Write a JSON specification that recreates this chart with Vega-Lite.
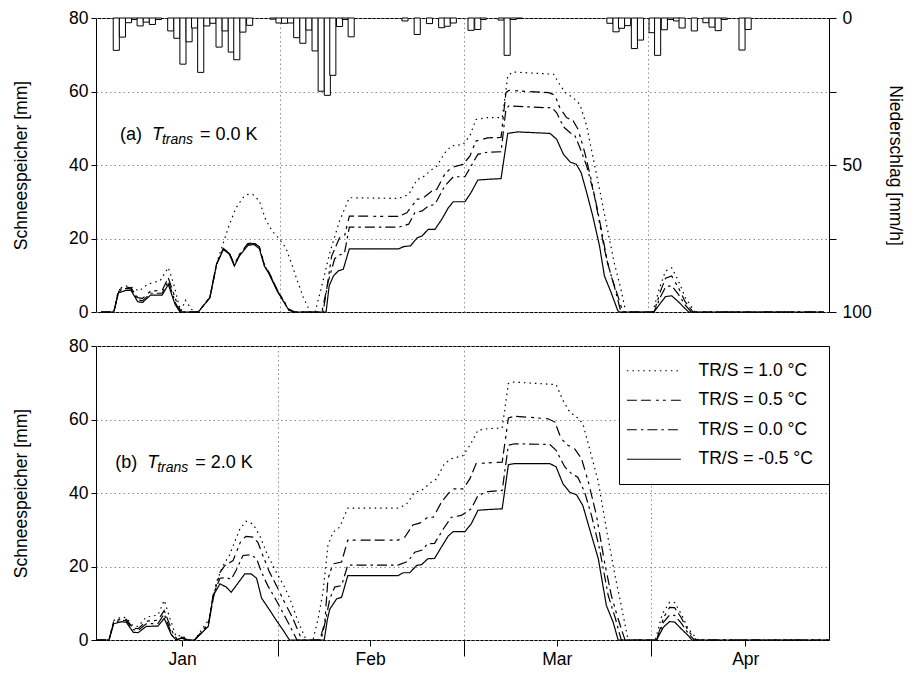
{
  "$schema": "https://vega.github.io/schema/vega-lite/v6.json",
  "padding": {"left": 12, "top": 8, "right": 5, "bottom": 2},
  "config": {
    "font": "Liberation Sans",
    "view": {"stroke": "black", "strokeWidth": 1},
    "axis": {"domain": false, "tickColor": "black", "labelColor": "black", "titleColor": "black", "labelFontSize": 17.5, "titleFontSize": 17.5, "titleFontWeight": "normal", "labelFont": "Liberation Sans", "titleFont": "Liberation Sans", "gridColor": "#8c8c8c", "gridDash": [1.5, 3], "gridWidth": 1}
  },
  "datasets": {
    "sweA": [
      {"s":"-0.5","t":0,"v":0},{"s":"-0.5","t":2.1,"v":0},{"s":"-0.5","t":2.85,"v":5.2},{"s":"-0.5","t":4.1,"v":5.9},{"s":"-0.5","t":4.9,"v":5.9},{"s":"-0.5","t":6.0,"v":2.8},{"s":"-0.5","t":6.8,"v":2.6},{"s":"-0.5","t":8.1,"v":4.6},{"s":"-0.5","t":10.0,"v":4.6},{"s":"-0.5","t":11.0,"v":7.5},{"s":"-0.5","t":12.1,"v":2.1},{"s":"-0.5","t":12.9,"v":0},{"s":"-0.5","t":15.9,"v":0},{"s":"-0.5","t":17.8,"v":3.9},{"s":"-0.5","t":18.9,"v":13.0},{"s":"-0.5","t":20.0,"v":17.0},{"s":"-0.5","t":21.0,"v":15.7},{"s":"-0.5","t":21.8,"v":12.5},{"s":"-0.5","t":22.6,"v":15.2},{"s":"-0.5","t":24.0,"v":18.1},{"s":"-0.5","t":25.0,"v":18.4},{"s":"-0.5","t":25.9,"v":17.2},{"s":"-0.5","t":26.7,"v":12.5},{"s":"-0.5","t":27.5,"v":10.3},{"s":"-0.5","t":28.8,"v":5.7},{"s":"-0.5","t":30.7,"v":0.5},{"s":"-0.5","t":31.5,"v":0},{"s":"-0.5","t":36.8,"v":0},{"s":"-0.5","t":37.3,"v":7.1},{"s":"-0.5","t":38.0,"v":9.8},{"s":"-0.5","t":38.8,"v":11.2},{"s":"-0.5","t":39.6,"v":11.6},{"s":"-0.5","t":40.6,"v":17.2},{"s":"-0.5","t":48.7,"v":17.2},{"s":"-0.5","t":49.5,"v":17.8},{"s":"-0.5","t":50.6,"v":18.0},{"s":"-0.5","t":51.7,"v":20.2},{"s":"-0.5","t":52.5,"v":20.7},{"s":"-0.5","t":53.5,"v":22.5},{"s":"-0.5","t":54.6,"v":22.5},{"s":"-0.5","t":55.7,"v":25.2},{"s":"-0.5","t":56.8,"v":28.4},{"s":"-0.5","t":57.6,"v":30.0},{"s":"-0.5","t":59.5,"v":30.0},{"s":"-0.5","t":60.5,"v":32.5},{"s":"-0.5","t":61.6,"v":35.9},{"s":"-0.5","t":63.2,"v":36.1},{"s":"-0.5","t":65.4,"v":36.3},{"s":"-0.5","t":66.5,"v":48.6},{"s":"-0.5","t":68.1,"v":49.0},{"s":"-0.5","t":73.4,"v":48.6},{"s":"-0.5","t":74.5,"v":47.0},{"s":"-0.5","t":75.6,"v":42.9},{"s":"-0.5","t":76.7,"v":40.8},{"s":"-0.5","t":77.7,"v":40.2},{"s":"-0.5","t":78.5,"v":37.9},{"s":"-0.5","t":79.4,"v":32.5},{"s":"-0.5","t":80.4,"v":26.1},{"s":"-0.5","t":81.5,"v":18.0},{"s":"-0.5","t":82.3,"v":9.8},{"s":"-0.5","t":83.4,"v":5.3},{"s":"-0.5","t":84.5,"v":0.3},{"s":"-0.5","t":84.8,"v":0},{"s":"-0.5","t":90.4,"v":0},{"s":"-0.5","t":91.5,"v":2.5},{"s":"-0.5","t":92.3,"v":4.2},{"s":"-0.5","t":93.3,"v":4.4},{"s":"-0.5","t":94.4,"v":2.8},{"s":"-0.5","t":95.5,"v":0.9},{"s":"-0.5","t":96.1,"v":0},{"s":"-0.5","t":118.2,"v":0},
      {"s":"0.0","t":0,"v":0},{"s":"0.0","t":2.1,"v":0},{"s":"0.0","t":2.85,"v":5.6},{"s":"0.0","t":4.1,"v":6.4},{"s":"0.0","t":4.9,"v":6.3},{"s":"0.0","t":6.0,"v":3.3},{"s":"0.0","t":6.8,"v":3.1},{"s":"0.0","t":8.1,"v":5.1},{"s":"0.0","t":10.0,"v":5.1},{"s":"0.0","t":11.0,"v":8.4},{"s":"0.0","t":12.2,"v":2.4},{"s":"0.0","t":13.0,"v":0},{"s":"0.0","t":15.9,"v":0},{"s":"0.0","t":17.8,"v":3.9},{"s":"0.0","t":18.9,"v":13.0},{"s":"0.0","t":20.0,"v":17.2},{"s":"0.0","t":21.0,"v":15.9},{"s":"0.0","t":21.8,"v":12.7},{"s":"0.0","t":22.6,"v":15.4},{"s":"0.0","t":24.0,"v":18.4},{"s":"0.0","t":25.0,"v":18.7},{"s":"0.0","t":25.9,"v":17.5},{"s":"0.0","t":26.7,"v":12.8},{"s":"0.0","t":27.5,"v":10.5},{"s":"0.0","t":28.8,"v":5.9},{"s":"0.0","t":30.7,"v":0.6},{"s":"0.0","t":31.6,"v":0},{"s":"0.0","t":36.3,"v":0},{"s":"0.0","t":37.1,"v":8.0},{"s":"0.0","t":38.2,"v":14.5},{"s":"0.0","t":39.0,"v":15.5},{"s":"0.0","t":39.8,"v":16.0},{"s":"0.0","t":40.6,"v":23.1},{"s":"0.0","t":48.7,"v":23.1},{"s":"0.0","t":50.3,"v":23.9},{"s":"0.0","t":51.3,"v":27.0},{"s":"0.0","t":52.5,"v":27.5},{"s":"0.0","t":53.5,"v":28.8},{"s":"0.0","t":54.6,"v":29.3},{"s":"0.0","t":56.2,"v":34.3},{"s":"0.0","t":57.6,"v":36.8},{"s":"0.0","t":59.5,"v":36.8},{"s":"0.0","t":60.5,"v":39.7},{"s":"0.0","t":61.6,"v":42.9},{"s":"0.0","t":63.2,"v":43.5},{"s":"0.0","t":65.4,"v":43.6},{"s":"0.0","t":66.2,"v":55.2},{"s":"0.0","t":66.7,"v":56.1},{"s":"0.0","t":72.4,"v":55.6},{"s":"0.0","t":73.7,"v":55.6},{"s":"0.0","t":74.5,"v":54.2},{"s":"0.0","t":75.6,"v":50.4},{"s":"0.0","t":76.7,"v":48.8},{"s":"0.0","t":77.5,"v":47.9},{"s":"0.0","t":78.3,"v":44.7},{"s":"0.0","t":79.4,"v":39.7},{"s":"0.0","t":80.7,"v":31.6},{"s":"0.0","t":81.8,"v":22.5},{"s":"0.0","t":82.8,"v":13.4},{"s":"0.0","t":83.9,"v":7.1},{"s":"0.0","t":85.0,"v":0},{"s":"0.0","t":90.4,"v":0},{"s":"0.0","t":91.5,"v":4.2},{"s":"0.0","t":92.3,"v":6.8},{"s":"0.0","t":93.3,"v":7.2},{"s":"0.0","t":94.4,"v":4.8},{"s":"0.0","t":95.5,"v":1.9},{"s":"0.0","t":96.5,"v":0},{"s":"0.0","t":118.2,"v":0},
      {"s":"0.5","t":0,"v":0},{"s":"0.5","t":2.1,"v":0},{"s":"0.5","t":2.85,"v":6.0},{"s":"0.5","t":4.1,"v":6.8},{"s":"0.5","t":4.9,"v":6.6},{"s":"0.5","t":6.0,"v":3.9},{"s":"0.5","t":6.8,"v":3.7},{"s":"0.5","t":8.1,"v":5.7},{"s":"0.5","t":10.0,"v":5.9},{"s":"0.5","t":11.0,"v":9.3},{"s":"0.5","t":12.3,"v":3.0},{"s":"0.5","t":13.1,"v":0},{"s":"0.5","t":15.9,"v":0},{"s":"0.5","t":17.8,"v":3.9},{"s":"0.5","t":18.9,"v":13.1},{"s":"0.5","t":20.0,"v":17.3},{"s":"0.5","t":21.0,"v":16.0},{"s":"0.5","t":21.8,"v":12.9},{"s":"0.5","t":22.6,"v":15.6},{"s":"0.5","t":24.0,"v":18.6},{"s":"0.5","t":25.0,"v":18.9},{"s":"0.5","t":25.9,"v":17.7},{"s":"0.5","t":26.7,"v":13.0},{"s":"0.5","t":27.5,"v":10.7},{"s":"0.5","t":28.8,"v":6.1},{"s":"0.5","t":30.7,"v":0.8},{"s":"0.5","t":31.7,"v":0},{"s":"0.5","t":36.1,"v":0},{"s":"0.5","t":36.9,"v":6.2},{"s":"0.5","t":37.7,"v":15.2},{"s":"0.5","t":39.0,"v":20.2},{"s":"0.5","t":39.8,"v":20.6},{"s":"0.5","t":40.6,"v":26.1},{"s":"0.5","t":48.7,"v":26.0},{"s":"0.5","t":50.0,"v":27.0},{"s":"0.5","t":51.7,"v":30.7},{"s":"0.5","t":52.5,"v":30.8},{"s":"0.5","t":54.1,"v":32.9},{"s":"0.5","t":54.9,"v":33.4},{"s":"0.5","t":56.2,"v":37.5},{"s":"0.5","t":57.3,"v":39.3},{"s":"0.5","t":59.2,"v":40.2},{"s":"0.5","t":60.3,"v":42.4},{"s":"0.5","t":61.3,"v":46.5},{"s":"0.5","t":63.2,"v":47.4},{"s":"0.5","t":65.4,"v":47.5},{"s":"0.5","t":66.2,"v":59.7},{"s":"0.5","t":66.7,"v":60.3},{"s":"0.5","t":73.2,"v":59.7},{"s":"0.5","t":74.2,"v":59.0},{"s":"0.5","t":75.0,"v":55.6},{"s":"0.5","t":76.1,"v":52.9},{"s":"0.5","t":77.2,"v":52.0},{"s":"0.5","t":78.0,"v":49.7},{"s":"0.5","t":79.1,"v":43.3},{"s":"0.5","t":80.2,"v":35.6},{"s":"0.5","t":81.2,"v":27.0},{"s":"0.5","t":82.3,"v":17.1},{"s":"0.5","t":83.4,"v":9.8},{"s":"0.5","t":84.5,"v":4.4},{"s":"0.5","t":85.3,"v":0},{"s":"0.5","t":90.4,"v":0},{"s":"0.5","t":91.5,"v":5.8},{"s":"0.5","t":92.3,"v":9.2},{"s":"0.5","t":93.3,"v":9.8},{"s":"0.5","t":94.4,"v":6.6},{"s":"0.5","t":95.5,"v":2.8},{"s":"0.5","t":96.8,"v":0},{"s":"0.5","t":118.2,"v":0},
      {"s":"1.0","t":0,"v":0},{"s":"1.0","t":2.1,"v":0},{"s":"1.0","t":3.0,"v":6.4},{"s":"1.0","t":4.1,"v":7.1},{"s":"1.0","t":5.2,"v":6.6},{"s":"1.0","t":6.2,"v":5.7},{"s":"1.0","t":7.6,"v":7.5},{"s":"1.0","t":9.7,"v":8.6},{"s":"1.0","t":11.0,"v":12.1},{"s":"1.0","t":11.9,"v":7.5},{"s":"1.0","t":12.7,"v":2.1},{"s":"1.0","t":13.1,"v":0.3},{"s":"1.0","t":13.8,"v":3.2},{"s":"1.0","t":14.8,"v":0.7},{"s":"1.0","t":15.4,"v":0},{"s":"1.0","t":15.9,"v":0},{"s":"1.0","t":17.8,"v":4.0},{"s":"1.0","t":18.9,"v":13.2},{"s":"1.0","t":20.2,"v":19.8},{"s":"1.0","t":21.0,"v":23.9},{"s":"1.0","t":22.1,"v":28.4},{"s":"1.0","t":23.2,"v":31.1},{"s":"1.0","t":24.0,"v":32.0},{"s":"1.0","t":24.8,"v":32.0},{"s":"1.0","t":25.9,"v":30.2},{"s":"1.0","t":26.9,"v":25.2},{"s":"1.0","t":28.0,"v":22.0},{"s":"1.0","t":29.1,"v":20.0},{"s":"1.0","t":30.2,"v":17.5},{"s":"1.0","t":31.2,"v":13.0},{"s":"1.0","t":32.0,"v":8.9},{"s":"1.0","t":33.1,"v":3.9},{"s":"1.0","t":34.2,"v":0},{"s":"1.0","t":35.0,"v":0},{"s":"1.0","t":36.1,"v":7.1},{"s":"1.0","t":37.4,"v":16.1},{"s":"1.0","t":39.0,"v":24.8},{"s":"1.0","t":40.6,"v":31.1},{"s":"1.0","t":48.7,"v":30.9},{"s":"1.0","t":50.3,"v":32.0},{"s":"1.0","t":51.7,"v":36.1},{"s":"1.0","t":52.5,"v":36.5},{"s":"1.0","t":54.1,"v":38.8},{"s":"1.0","t":54.9,"v":39.7},{"s":"1.0","t":56.2,"v":43.3},{"s":"1.0","t":57.3,"v":45.2},{"s":"1.0","t":59.2,"v":45.6},{"s":"1.0","t":60.3,"v":47.9},{"s":"1.0","t":61.3,"v":52.4},{"s":"1.0","t":63.2,"v":52.9},{"s":"1.0","t":65.6,"v":52.9},{"s":"1.0","t":66.5,"v":64.2},{"s":"1.0","t":67.3,"v":65.3},{"s":"1.0","t":74.0,"v":64.7},{"s":"1.0","t":74.8,"v":62.4},{"s":"1.0","t":75.9,"v":59.7},{"s":"1.0","t":77.2,"v":58.3},{"s":"1.0","t":78.3,"v":56.5},{"s":"1.0","t":79.4,"v":50.6},{"s":"1.0","t":80.4,"v":42.4},{"s":"1.0","t":81.5,"v":33.4},{"s":"1.0","t":82.8,"v":22.5},{"s":"1.0","t":83.9,"v":13.4},{"s":"1.0","t":85.0,"v":6.2},{"s":"1.0","t":85.8,"v":0},{"s":"1.0","t":90.2,"v":0},{"s":"1.0","t":91.3,"v":6.5},{"s":"1.0","t":92.3,"v":11.2},{"s":"1.0","t":93.3,"v":12.0},{"s":"1.0","t":94.4,"v":8.5},{"s":"1.0","t":95.5,"v":4.0},{"s":"1.0","t":97.1,"v":0},{"s":"1.0","t":118.2,"v":0}
    ],
    "sweB": [
      {"s":"-0.5","t":0,"v":0},{"s":"-0.5","t":2.1,"v":0},{"s":"-0.5","t":2.85,"v":4.4},{"s":"-0.5","t":4.1,"v":5.0},{"s":"-0.5","t":4.9,"v":4.8},{"s":"-0.5","t":6.0,"v":2.1},{"s":"-0.5","t":6.8,"v":2.0},{"s":"-0.5","t":8.1,"v":3.7},{"s":"-0.5","t":10.0,"v":3.8},{"s":"-0.5","t":11.0,"v":5.9},{"s":"-0.5","t":12.1,"v":1.6},{"s":"-0.5","t":12.9,"v":0},{"s":"-0.5","t":13.8,"v":0.5},{"s":"-0.5","t":14.8,"v":0},{"s":"-0.5","t":15.9,"v":0},{"s":"-0.5","t":18.1,"v":3.7},{"s":"-0.5","t":18.9,"v":12.1},{"s":"-0.5","t":20.0,"v":15.3},{"s":"-0.5","t":21.0,"v":14.4},{"s":"-0.5","t":21.8,"v":13.0},{"s":"-0.5","t":22.6,"v":14.8},{"s":"-0.5","t":24.0,"v":18.0},{"s":"-0.5","t":25.0,"v":18.0},{"s":"-0.5","t":25.9,"v":16.8},{"s":"-0.5","t":26.7,"v":11.4},{"s":"-0.5","t":27.7,"v":8.9},{"s":"-0.5","t":29.1,"v":5.3},{"s":"-0.5","t":30.2,"v":2.6},{"s":"-0.5","t":31.2,"v":0},{"s":"-0.5","t":36.8,"v":0},{"s":"-0.5","t":37.3,"v":5.5},{"s":"-0.5","t":37.7,"v":8.4},{"s":"-0.5","t":38.8,"v":11.2},{"s":"-0.5","t":39.6,"v":11.6},{"s":"-0.5","t":40.6,"v":17.5},{"s":"-0.5","t":48.7,"v":17.5},{"s":"-0.5","t":49.5,"v":18.3},{"s":"-0.5","t":50.6,"v":18.3},{"s":"-0.5","t":51.7,"v":20.3},{"s":"-0.5","t":52.5,"v":20.5},{"s":"-0.5","t":53.5,"v":22.1},{"s":"-0.5","t":54.6,"v":22.2},{"s":"-0.5","t":55.7,"v":25.3},{"s":"-0.5","t":56.8,"v":28.3},{"s":"-0.5","t":57.6,"v":29.5},{"s":"-0.5","t":59.5,"v":29.5},{"s":"-0.5","t":60.5,"v":31.6},{"s":"-0.5","t":61.6,"v":35.3},{"s":"-0.5","t":63.2,"v":35.5},{"s":"-0.5","t":65.5,"v":35.7},{"s":"-0.5","t":66.5,"v":47.7},{"s":"-0.5","t":67.5,"v":48.0},{"s":"-0.5","t":73.2,"v":48.0},{"s":"-0.5","t":74.2,"v":47.1},{"s":"-0.5","t":75.3,"v":42.5},{"s":"-0.5","t":76.4,"v":40.2},{"s":"-0.5","t":77.5,"v":39.5},{"s":"-0.5","t":78.5,"v":36.6},{"s":"-0.5","t":79.6,"v":30.2},{"s":"-0.5","t":81.0,"v":22.1},{"s":"-0.5","t":82.3,"v":9.4},{"s":"-0.5","t":83.4,"v":4.8},{"s":"-0.5","t":84.2,"v":0},{"s":"-0.5","t":90.4,"v":0},{"s":"-0.5","t":91.5,"v":3.5},{"s":"-0.5","t":92.5,"v":5.0},{"s":"-0.5","t":93.3,"v":4.9},{"s":"-0.5","t":94.4,"v":3.0},{"s":"-0.5","t":95.5,"v":1.2},{"s":"-0.5","t":96.1,"v":0},{"s":"-0.5","t":118.2,"v":0},
      {"s":"0.0","t":0,"v":0},{"s":"0.0","t":2.1,"v":0},{"s":"0.0","t":2.85,"v":4.8},{"s":"0.0","t":4.1,"v":5.4},{"s":"0.0","t":4.9,"v":5.2},{"s":"0.0","t":6.0,"v":2.8},{"s":"0.0","t":6.8,"v":2.6},{"s":"0.0","t":8.1,"v":4.4},{"s":"0.0","t":10.0,"v":4.5},{"s":"0.0","t":11.0,"v":7.1},{"s":"0.0","t":12.3,"v":1.1},{"s":"0.0","t":13.0,"v":0},{"s":"0.0","t":13.8,"v":0.6},{"s":"0.0","t":14.8,"v":0},{"s":"0.0","t":15.9,"v":0},{"s":"0.0","t":18.1,"v":3.9},{"s":"0.0","t":18.9,"v":12.3},{"s":"0.0","t":20.0,"v":16.8},{"s":"0.0","t":21.0,"v":17.0},{"s":"0.0","t":21.8,"v":16.5},{"s":"0.0","t":22.6,"v":19.0},{"s":"0.0","t":23.7,"v":23.0},{"s":"0.0","t":25.0,"v":23.2},{"s":"0.0","t":25.9,"v":22.1},{"s":"0.0","t":26.7,"v":18.4},{"s":"0.0","t":27.7,"v":14.8},{"s":"0.0","t":29.1,"v":10.7},{"s":"0.0","t":30.4,"v":6.6},{"s":"0.0","t":31.8,"v":2.1},{"s":"0.0","t":32.4,"v":0},{"s":"0.0","t":36.3,"v":0},{"s":"0.0","t":37.1,"v":6.0},{"s":"0.0","t":37.7,"v":11.2},{"s":"0.0","t":38.5,"v":14.4},{"s":"0.0","t":39.6,"v":14.8},{"s":"0.0","t":40.6,"v":20.4},{"s":"0.0","t":48.7,"v":20.4},{"s":"0.0","t":50.3,"v":21.4},{"s":"0.0","t":51.4,"v":23.9},{"s":"0.0","t":52.5,"v":24.4},{"s":"0.0","t":53.5,"v":26.2},{"s":"0.0","t":54.6,"v":26.3},{"s":"0.0","t":56.0,"v":30.2},{"s":"0.0","t":57.3,"v":33.4},{"s":"0.0","t":58.9,"v":33.9},{"s":"0.0","t":60.5,"v":35.7},{"s":"0.0","t":61.6,"v":39.3},{"s":"0.0","t":63.2,"v":40.4},{"s":"0.0","t":65.5,"v":40.7},{"s":"0.0","t":66.5,"v":53.0},{"s":"0.0","t":67.5,"v":53.4},{"s":"0.0","t":73.2,"v":53.2},{"s":"0.0","t":74.2,"v":51.6},{"s":"0.0","t":75.6,"v":47.1},{"s":"0.0","t":76.7,"v":45.2},{"s":"0.0","t":77.7,"v":44.3},{"s":"0.0","t":78.8,"v":40.2},{"s":"0.0","t":79.9,"v":33.9},{"s":"0.0","t":81.2,"v":24.8},{"s":"0.0","t":82.6,"v":12.1},{"s":"0.0","t":83.7,"v":6.2},{"s":"0.0","t":84.7,"v":0},{"s":"0.0","t":90.4,"v":0},{"s":"0.0","t":91.5,"v":4.8},{"s":"0.0","t":92.5,"v":6.8},{"s":"0.0","t":93.3,"v":6.7},{"s":"0.0","t":94.4,"v":4.5},{"s":"0.0","t":95.5,"v":1.8},{"s":"0.0","t":96.5,"v":0},{"s":"0.0","t":118.2,"v":0},
      {"s":"0.5","t":0,"v":0},{"s":"0.5","t":2.1,"v":0},{"s":"0.5","t":2.85,"v":5.0},{"s":"0.5","t":4.1,"v":5.8},{"s":"0.5","t":4.9,"v":5.6},{"s":"0.5","t":6.0,"v":3.2},{"s":"0.5","t":6.8,"v":3.1},{"s":"0.5","t":8.1,"v":5.1},{"s":"0.5","t":10.0,"v":5.4},{"s":"0.5","t":11.0,"v":8.0},{"s":"0.5","t":12.5,"v":1.5},{"s":"0.5","t":13.2,"v":0},{"s":"0.5","t":13.8,"v":0.8},{"s":"0.5","t":14.8,"v":0},{"s":"0.5","t":15.9,"v":0},{"s":"0.5","t":18.1,"v":4.4},{"s":"0.5","t":19.1,"v":13.0},{"s":"0.5","t":20.0,"v":18.4},{"s":"0.5","t":20.8,"v":20.3},{"s":"0.5","t":22.1,"v":21.6},{"s":"0.5","t":23.4,"v":27.1},{"s":"0.5","t":24.2,"v":28.2},{"s":"0.5","t":25.3,"v":28.0},{"s":"0.5","t":26.1,"v":26.6},{"s":"0.5","t":26.9,"v":23.0},{"s":"0.5","t":28.0,"v":18.4},{"s":"0.5","t":29.1,"v":14.8},{"s":"0.5","t":30.4,"v":10.3},{"s":"0.5","t":31.8,"v":5.7},{"s":"0.5","t":32.9,"v":1.2},{"s":"0.5","t":33.3,"v":0},{"s":"0.5","t":36.1,"v":0},{"s":"0.5","t":36.9,"v":4.8},{"s":"0.5","t":37.4,"v":16.6},{"s":"0.5","t":38.2,"v":20.7},{"s":"0.5","t":39.6,"v":21.2},{"s":"0.5","t":40.6,"v":27.2},{"s":"0.5","t":48.7,"v":27.2},{"s":"0.5","t":49.8,"v":28.0},{"s":"0.5","t":51.1,"v":31.3},{"s":"0.5","t":52.2,"v":31.8},{"s":"0.5","t":53.5,"v":33.4},{"s":"0.5","t":54.4,"v":33.4},{"s":"0.5","t":55.7,"v":37.5},{"s":"0.5","t":56.8,"v":39.8},{"s":"0.5","t":57.6,"v":41.1},{"s":"0.5","t":59.2,"v":41.1},{"s":"0.5","t":60.3,"v":43.9},{"s":"0.5","t":61.3,"v":48.0},{"s":"0.5","t":63.2,"v":48.2},{"s":"0.5","t":65.5,"v":48.4},{"s":"0.5","t":66.5,"v":60.4},{"s":"0.5","t":67.5,"v":60.9},{"s":"0.5","t":72.9,"v":60.2},{"s":"0.5","t":74.0,"v":59.3},{"s":"0.5","t":75.0,"v":54.8},{"s":"0.5","t":76.1,"v":53.0},{"s":"0.5","t":77.2,"v":52.0},{"s":"0.5","t":78.3,"v":49.3},{"s":"0.5","t":79.4,"v":43.0},{"s":"0.5","t":80.7,"v":33.9},{"s":"0.5","t":82.0,"v":21.2},{"s":"0.5","t":83.1,"v":12.1},{"s":"0.5","t":84.2,"v":5.7},{"s":"0.5","t":85.3,"v":0},{"s":"0.5","t":90.4,"v":0},{"s":"0.5","t":91.5,"v":6.0},{"s":"0.5","t":92.5,"v":8.9},{"s":"0.5","t":93.3,"v":8.8},{"s":"0.5","t":94.4,"v":6.0},{"s":"0.5","t":95.5,"v":2.5},{"s":"0.5","t":96.8,"v":0},{"s":"0.5","t":118.2,"v":0},
      {"s":"1.0","t":0,"v":0},{"s":"1.0","t":2.1,"v":0},{"s":"1.0","t":2.85,"v":5.3},{"s":"1.0","t":4.1,"v":6.3},{"s":"1.0","t":4.9,"v":6.0},{"s":"1.0","t":6.0,"v":3.8},{"s":"1.0","t":6.8,"v":3.7},{"s":"1.0","t":8.1,"v":6.2},{"s":"1.0","t":10.0,"v":6.8},{"s":"1.0","t":11.0,"v":10.8},{"s":"1.0","t":12.0,"v":5.5},{"s":"1.0","t":12.9,"v":1.0},{"s":"1.0","t":13.8,"v":1.3},{"s":"1.0","t":14.8,"v":0},{"s":"1.0","t":15.9,"v":0},{"s":"1.0","t":18.3,"v":5.8},{"s":"1.0","t":19.4,"v":15.7},{"s":"1.0","t":20.5,"v":20.3},{"s":"1.0","t":21.5,"v":23.0},{"s":"1.0","t":23.2,"v":30.2},{"s":"1.0","t":24.2,"v":32.3},{"s":"1.0","t":25.3,"v":31.6},{"s":"1.0","t":26.4,"v":28.4},{"s":"1.0","t":27.7,"v":23.0},{"s":"1.0","t":29.1,"v":18.4},{"s":"1.0","t":30.4,"v":14.4},{"s":"1.0","t":31.2,"v":11.5},{"s":"1.0","t":32.6,"v":5.0},{"s":"1.0","t":33.7,"v":0.7},{"s":"1.0","t":34.2,"v":0},{"s":"1.0","t":35.0,"v":0},{"s":"1.0","t":35.8,"v":5.7},{"s":"1.0","t":36.6,"v":13.0},{"s":"1.0","t":37.4,"v":25.7},{"s":"1.0","t":38.2,"v":29.3},{"s":"1.0","t":39.3,"v":30.7},{"s":"1.0","t":40.6,"v":35.9},{"s":"1.0","t":48.7,"v":35.9},{"s":"1.0","t":50.0,"v":36.8},{"s":"1.0","t":51.4,"v":40.2},{"s":"1.0","t":52.5,"v":40.7},{"s":"1.0","t":54.1,"v":43.0},{"s":"1.0","t":54.9,"v":43.8},{"s":"1.0","t":56.2,"v":48.0},{"s":"1.0","t":57.3,"v":49.3},{"s":"1.0","t":59.2,"v":50.2},{"s":"1.0","t":60.3,"v":53.0},{"s":"1.0","t":61.6,"v":57.1},{"s":"1.0","t":63.2,"v":57.5},{"s":"1.0","t":65.5,"v":57.7},{"s":"1.0","t":66.5,"v":69.8},{"s":"1.0","t":67.3,"v":70.2},{"s":"1.0","t":74.2,"v":69.5},{"s":"1.0","t":75.3,"v":65.2},{"s":"1.0","t":76.4,"v":62.0},{"s":"1.0","t":77.5,"v":60.7},{"s":"1.0","t":78.5,"v":58.9},{"s":"1.0","t":79.6,"v":52.0},{"s":"1.0","t":81.0,"v":43.0},{"s":"1.0","t":82.3,"v":30.2},{"s":"1.0","t":83.7,"v":17.5},{"s":"1.0","t":84.7,"v":9.4},{"s":"1.0","t":85.8,"v":0},{"s":"1.0","t":90.2,"v":0},{"s":"1.0","t":91.3,"v":7.0},{"s":"1.0","t":92.5,"v":10.3},{"s":"1.0","t":93.3,"v":10.2},{"s":"1.0","t":94.4,"v":7.0},{"s":"1.0","t":95.5,"v":3.0},{"s":"1.0","t":97.1,"v":0},{"s":"1.0","t":118.2,"v":0}
    ],
    "prec": [
      {"t":2.5,"p":11.0},{"t":3.5,"p":6.5},{"t":4.5,"p":1.6},{"t":5.5,"p":0.5},{"t":6.4,"p":2.7},{"t":7.4,"p":1.4},{"t":8.4,"p":2.2},{"t":9.4,"p":0.5},{"t":11.4,"p":4.4},{"t":12.4,"p":6.9},{"t":13.4,"p":15.7},{"t":14.4,"p":8.1},{"t":15.3,"p":3.4},{"t":16.3,"p":18.5},{"t":17.3,"p":2.7},{"t":18.3,"p":1.8},{"t":19.3,"p":9.9},{"t":20.3,"p":4.4},{"t":21.3,"p":11.6},{"t":22.2,"p":14.2},{"t":23.2,"p":4.8},{"t":24.3,"p":2.5},{"t":28.1,"p":0.4},{"t":29.1,"p":1.7},{"t":30.0,"p":1.8},{"t":31.0,"p":1.7},{"t":32.0,"p":6.7},{"t":33.0,"p":8.6},{"t":34.0,"p":4.1},{"t":35.0,"p":11.2},{"t":36.0,"p":24.9},{"t":37.0,"p":26.3},{"t":37.9,"p":19.5},{"t":39.0,"p":2.9},{"t":39.9,"p":0.5},{"t":40.9,"p":6.4},{"t":49.7,"p":1.0},{"t":51.7,"p":5.6},{"t":53.7,"p":1.9},{"t":55.7,"p":3.3},{"t":56.6,"p":2.8},{"t":57.6,"p":1.7},{"t":60.5,"p":4.2},{"t":61.6,"p":3.9},{"t":62.5,"p":0.5},{"t":65.4,"p":0.7},{"t":66.4,"p":12.7},{"t":67.4,"p":0.5},{"t":68.4,"p":0.2},{"t":83.2,"p":1.8},{"t":84.2,"p":4.7},{"t":85.1,"p":3.5},{"t":86.1,"p":2.6},{"t":87.2,"p":10.4},{"t":88.2,"p":7.5},{"t":90.1,"p":5.0},{"t":91.0,"p":12.7},{"t":92.1,"p":4.0},{"t":93.1,"p":0.5},{"t":94.1,"p":1.0},{"t":95.0,"p":3.4},{"t":97.0,"p":4.4},{"t":98.9,"p":1.6},{"t":99.9,"p":3.1},{"t":100.9,"p":4.3},{"t":101.9,"p":0.5},{"t":104.8,"p":10.9},{"t":105.8,"p":3.9}
    ]
  },
  "spacing": 15,
  "resolve": {"scale": {"strokeDash": "independent"}, "legend": {"strokeDash": "independent"}},
  "vconcat": [
    {
      "width": 733,
      "height": 294,
      "layer": [
        {
          "layer": [
            {
              "data": {"name": "sweA"},
              "mark": {"type": "line", "color": "black", "strokeWidth": 1.2},
              "encoding": {
                "x": {"field": "t", "type": "quantitative", "scale": {"domain": [0, 118.2], "nice": false, "zero": false}, "axis": {"values": [29.27, 59.31, 89.44], "labels": false, "ticks": false, "grid": true, "title": null}},
                "y": {"field": "v", "type": "quantitative", "scale": {"domain": [0, 80], "nice": false}, "axis": {"title": "Schneespeicher [mm]", "values": [0, 10, 20, 30, 40, 50, 60, 70, 80], "labelExpr": "datum.value % 20 == 0 ? datum.label : ''", "tickSize": 5, "labelPadding": 3, "titlePadding": 38, "grid": true, "gridOpacity": {"condition": {"test": "datum.value % 20 == 0", "value": 1}, "value": 0}}},
                "strokeDash": {"field": "s", "type": "nominal", "scale": {"domain": ["1.0", "0.5", "0.0", "-0.5"], "range": [[1.5, 4], [10, 4, 10, 5, 3, 4, 3, 5], [10, 4, 2.5, 4], [1, 0]]}, "legend": null}
              }
            },
            {
              "data": {"values": [{"label": "(a)"}]},
              "mark": {"type": "text", "align": "left", "baseline": "alphabetic", "fontSize": 18, "font": "Liberation Sans", "color": "black"},
              "encoding": {"x": {"datum": 3.1, "type": "quantitative"}, "y": {"datum": 46.7, "type": "quantitative"}, "text": {"field": "label"}}
            },
            {
              "data": {"values": [{"label": "T"}]},
              "mark": {"type": "text", "align": "left", "baseline": "alphabetic", "fontSize": 18, "fontStyle": "italic", "font": "Liberation Sans", "color": "black", "dx": 32},
              "encoding": {"x": {"datum": 3.1, "type": "quantitative"}, "y": {"datum": 46.7, "type": "quantitative"}, "text": {"field": "label"}}
            },
            {
              "data": {"values": [{"label": "trans"}]},
              "mark": {"type": "text", "align": "left", "baseline": "alphabetic", "fontSize": 14, "fontStyle": "italic", "font": "Liberation Sans", "color": "black", "dx": 42, "dy": 4},
              "encoding": {"x": {"datum": 3.1, "type": "quantitative"}, "y": {"datum": 46.7, "type": "quantitative"}, "text": {"field": "label"}}
            },
            {
              "data": {"values": [{"label": "= 0.0 K"}]},
              "mark": {"type": "text", "align": "left", "baseline": "alphabetic", "fontSize": 18, "font": "Liberation Sans", "color": "black", "dx": 80},
              "encoding": {"x": {"datum": 3.1, "type": "quantitative"}, "y": {"datum": 46.7, "type": "quantitative"}, "text": {"field": "label"}}
            }
          ]
        },
        {
          "data": {"name": "prec"},
          "mark": {"type": "bar", "width": 6.1, "fill": "white", "stroke": "black", "strokeWidth": 1},
          "encoding": {
            "x": {"field": "t", "type": "quantitative", "scale": {"domain": [0, 118.2], "nice": false, "zero": false}, "axis": {"values": [29.27, 59.31, 89.44], "labels": false, "ticks": false, "grid": true, "title": null}},
            "y": {"field": "p", "type": "quantitative", "scale": {"domain": [0, 100], "reverse": true, "nice": false}, "axis": {"orient": "right", "title": "Niederschlag [mm/h]", "values": [0, 25, 50, 75, 100], "labelExpr": "datum.value % 50 == 0 ? datum.label : ''", "tickSize": 7, "labelPadding": 6, "titlePadding": 14, "grid": false}}
          }
        }
      ],
      "resolve": {"scale": {"y": "independent"}}
    },
    {
      "width": 733,
      "height": 294,
      "layer": [
        {
          "data": {"name": "sweB"},
          "mark": {"type": "line", "color": "black", "strokeWidth": 1.2},
          "encoding": {
            "x": {"field": "t", "type": "quantitative", "scale": {"domain": [0, 118.2], "nice": false, "zero": false}, "axis": {"values": [13.9, 29.27, 44.2, 59.31, 74.3, 89.44, 104.7], "labelExpr": "datum.value == 13.9 ? 'Jan' : datum.value == 44.2 ? 'Feb' : datum.value == 74.3 ? 'Mar' : datum.value == 104.7 ? 'Apr' : ''", "tickSize": {"condition": {"test": "datum.value == 29.27 || datum.value == 59.31 || datum.value == 89.44", "value": 16}, "value": 6}, "labelPadding": 4, "grid": true, "gridOpacity": {"condition": {"test": "datum.value == 29.27 || datum.value == 59.31 || datum.value == 89.44", "value": 1}, "value": 0}, "title": null}},
            "y": {"field": "v", "type": "quantitative", "scale": {"domain": [0, 80], "nice": false}, "axis": {"title": "Schneespeicher [mm]", "values": [0, 10, 20, 30, 40, 50, 60, 70, 80], "labelExpr": "datum.value % 20 == 0 ? datum.label : ''", "tickSize": 5, "labelPadding": 3, "titlePadding": 38, "grid": true, "gridOpacity": {"condition": {"test": "datum.value % 20 == 0", "value": 1}, "value": 0}}},
            "strokeDash": {"field": "s", "type": "nominal", "scale": {"domain": ["1.0", "0.5", "0.0", "-0.5"], "range": [[1.5, 4], [10, 4, 10, 5, 3, 4, 3, 5], [10, 4, 2.5, 4], [1, 0]]},
              "legend": {"orient": "top-right", "offset": 0, "title": null, "labelExpr": "'TR/S = ' + datum.label + ' °C'", "symbolType": "M-2.5,0H5.5", "symbolSize": 182, "symbolStrokeWidth": 1.2, "symbolStrokeColor": "black", "labelFontSize": 17.5, "labelFont": "Liberation Sans", "labelColor": "black", "labelOffset": 46, "rowPadding": 10.5, "padding": 16, "strokeColor": "black", "fillColor": "white", "cornerRadius": 0, "labelLimit": 250}}
          }
        },
        {
          "data": {"values": [{"label": "(b)"}]},
          "mark": {"type": "text", "align": "left", "baseline": "alphabetic", "fontSize": 18, "font": "Liberation Sans", "color": "black"},
          "encoding": {"x": {"datum": 3.1, "type": "quantitative"}, "y": {"datum": 46.7, "type": "quantitative"}, "text": {"field": "label"}}
        },
        {
          "data": {"values": [{"label": "T"}]},
          "mark": {"type": "text", "align": "left", "baseline": "alphabetic", "fontSize": 18, "fontStyle": "italic", "font": "Liberation Sans", "color": "black", "dx": 32},
          "encoding": {"x": {"datum": 3.1, "type": "quantitative"}, "y": {"datum": 46.7, "type": "quantitative"}, "text": {"field": "label"}}
        },
        {
          "data": {"values": [{"label": "trans"}]},
          "mark": {"type": "text", "align": "left", "baseline": "alphabetic", "fontSize": 14, "fontStyle": "italic", "font": "Liberation Sans", "color": "black", "dx": 42, "dy": 4},
          "encoding": {"x": {"datum": 3.1, "type": "quantitative"}, "y": {"datum": 46.7, "type": "quantitative"}, "text": {"field": "label"}}
        },
        {
          "data": {"values": [{"label": "= 2.0 K"}]},
          "mark": {"type": "text", "align": "left", "baseline": "alphabetic", "fontSize": 18, "font": "Liberation Sans", "color": "black", "dx": 80},
          "encoding": {"x": {"datum": 3.1, "type": "quantitative"}, "y": {"datum": 46.7, "type": "quantitative"}, "text": {"field": "label"}}
        }
      ]
    }
  ]
}
